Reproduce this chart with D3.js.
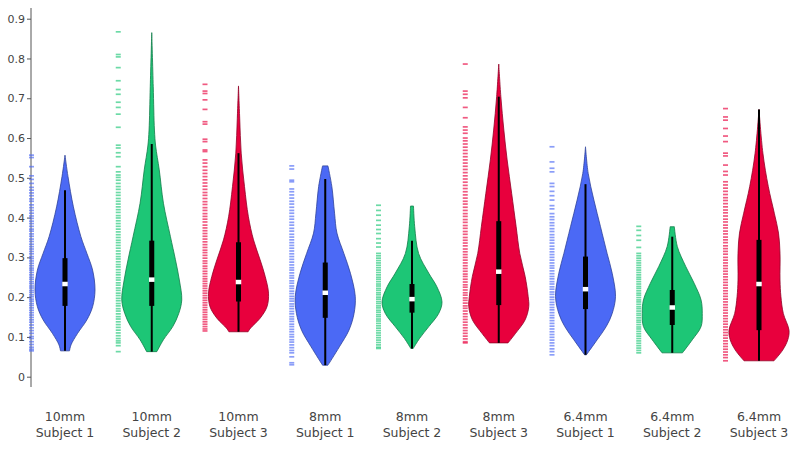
<!DOCTYPE html>
<html>
<head>
<meta charset="utf-8">
<script src="https://cdn.jsdelivr.net/npm/d3@7"></script>
<style>
  body { margin: 0; background: #fff; }
  text { font-family: "DejaVu Sans", Verdana, sans-serif; fill: #444; }
</style>
</head>
<body>
<svg id="chart" width="800" height="450"></svg>
<script>
// categories as "size subject"
var categories = ["10mm Subject 1", "10mm Subject 2", "10mm Subject 3",
                  "8mm Subject 1", "8mm Subject 2", "8mm Subject 3",
                  "6.4mm Subject 1", "6.4mm Subject 2", "6.4mm Subject 3"];
var subjects = ["Subject 1", "Subject 2", "Subject 3"];
var yTicks = [0, 0.1, 0.2, 0.3, 0.4, 0.5, 0.6, 0.7, 0.8, 0.9];

// box stats per category
var minVals    = [0.065, 0.063, 0.113, 0.029, 0.071, 0.085, 0.055, 0.060, 0.040];
var q1Vals     = [0.178, 0.178, 0.189, 0.148, 0.161, 0.180, 0.170, 0.130, 0.117];
var medianVals = [0.233, 0.244, 0.238, 0.211, 0.195, 0.264, 0.220, 0.174, 0.233];
var q3Vals     = [0.298, 0.342, 0.338, 0.287, 0.233, 0.391, 0.302, 0.218, 0.344];
var upperWhisk = [0.469, 0.585, 0.562, 0.497, 0.342, 0.704, 0.484, 0.352, 0.672];

// violin outlines: [value, relative half width]
var profiles = [
  [[0.065,0.15],[0.08,0.2],[0.109,0.42],[0.143,0.73],[0.176,0.92],[0.218,1.0],[0.268,0.92],[0.31,0.73],[0.352,0.53],[0.427,0.28],[0.503,0.1],[0.557,0.0]],
  [[0.063,0.17],[0.093,0.39],[0.126,0.7],[0.159,0.9],[0.193,1.0],[0.243,0.92],[0.294,0.79],[0.353,0.62],[0.436,0.39],[0.52,0.25],[0.58,0.13],[0.62,0.09],[0.729,0.05],[0.865,0.0]],
  [[0.113,0.32],[0.122,0.4],[0.147,0.72],[0.176,0.95],[0.21,1.0],[0.252,0.89],[0.294,0.72],[0.344,0.5],[0.402,0.33],[0.478,0.2],[0.562,0.09],[0.65,0.04],[0.731,0.0]],
  [[0.029,0.09],[0.075,0.47],[0.117,0.79],[0.159,0.96],[0.202,1.0],[0.26,0.84],[0.31,0.62],[0.361,0.39],[0.411,0.31],[0.478,0.22],[0.53,0.09]],
  [[0.071,0.04],[0.096,0.25],[0.126,0.56],[0.159,0.89],[0.188,1.0],[0.226,0.83],[0.26,0.56],[0.31,0.22],[0.377,0.09],[0.429,0.05]],
  [[0.085,0.31],[0.109,0.56],[0.143,0.88],[0.176,1.0],[0.202,0.98],[0.252,0.88],[0.31,0.7],[0.377,0.58],[0.461,0.43],[0.545,0.28],[0.62,0.17],[0.704,0.07],[0.786,0.0]],
  [[0.055,0.03],[0.093,0.39],[0.126,0.69],[0.159,0.89],[0.202,1.0],[0.26,0.89],[0.31,0.72],[0.377,0.5],[0.444,0.28],[0.511,0.09],[0.578,0.0]],
  [[0.06,0.34],[0.093,0.67],[0.126,0.96],[0.159,1.0],[0.193,0.96],[0.235,0.73],[0.277,0.45],[0.327,0.17],[0.377,0.07]],
  [[0.04,0.5],[0.067,0.79],[0.093,0.96],[0.117,1.0],[0.159,0.81],[0.202,0.73],[0.243,0.7],[0.31,0.7],[0.361,0.65],[0.411,0.51],[0.478,0.31],[0.562,0.13],[0.672,0.0]]
];

// rug (individual points)
var rugs = [
  [0.557,0.551,0.528,0.505,0.496,0.486,0.476,0.469,0.462,0.455,0.447,0.441,0.432,0.425,0.418,0.411,0.404,0.398,0.391,0.385,0.378,0.371,0.366,0.359,0.353,0.346,0.34,0.333,0.327,0.321,0.315,0.309,0.302,0.297,0.291,0.285,0.279,0.273,0.268,0.262,0.256,0.25,0.245,0.239,0.234,0.228,0.223,0.217,0.212,0.206,0.201,0.195,0.19,0.184,0.179,0.173,0.167,0.161,0.155,0.149,0.143,0.137,0.13,0.123,0.116,0.109,0.101,0.096,0.088,0.081,0.074,0.069,0.065],
  [0.867,0.81,0.804,0.777,0.744,0.722,0.71,0.69,0.677,0.66,0.627,0.582,0.575,0.563,0.553,0.528,0.515,0.507,0.501,0.494,0.486,0.478,0.471,0.463,0.456,0.448,0.441,0.434,0.427,0.42,0.413,0.405,0.399,0.392,0.385,0.378,0.371,0.364,0.357,0.35,0.343,0.337,0.33,0.323,0.316,0.309,0.302,0.296,0.289,0.282,0.276,0.269,0.262,0.256,0.249,0.243,0.236,0.23,0.223,0.217,0.21,0.204,0.197,0.191,0.184,0.178,0.171,0.165,0.158,0.151,0.145,0.138,0.131,0.124,0.117,0.11,0.103,0.096,0.09,0.085,0.078,0.063],
  [0.735,0.718,0.712,0.696,0.672,0.641,0.635,0.597,0.591,0.57,0.566,0.545,0.537,0.528,0.519,0.511,0.503,0.495,0.487,0.479,0.471,0.463,0.456,0.448,0.44,0.433,0.425,0.418,0.41,0.403,0.396,0.389,0.381,0.374,0.367,0.36,0.353,0.346,0.339,0.332,0.325,0.318,0.312,0.305,0.298,0.291,0.285,0.278,0.272,0.265,0.259,0.252,0.246,0.24,0.234,0.228,0.222,0.216,0.21,0.204,0.198,0.192,0.186,0.18,0.174,0.168,0.162,0.156,0.15,0.144,0.138,0.132,0.126,0.12,0.115],
  [0.53,0.522,0.494,0.49,0.472,0.465,0.457,0.449,0.441,0.434,0.426,0.418,0.411,0.403,0.396,0.388,0.381,0.373,0.366,0.358,0.351,0.344,0.337,0.33,0.323,0.316,0.309,0.302,0.295,0.288,0.281,0.274,0.268,0.261,0.254,0.248,0.241,0.235,0.228,0.222,0.215,0.209,0.202,0.196,0.19,0.183,0.177,0.171,0.164,0.158,0.151,0.145,0.139,0.132,0.126,0.119,0.113,0.106,0.1,0.093,0.087,0.08,0.073,0.066,0.06,0.05,0.035,0.03],
  [0.431,0.418,0.406,0.393,0.381,0.37,0.36,0.347,0.336,0.326,0.31,0.304,0.298,0.292,0.286,0.28,0.274,0.268,0.262,0.256,0.25,0.245,0.239,0.233,0.228,0.222,0.217,0.211,0.206,0.2,0.195,0.189,0.184,0.178,0.173,0.167,0.162,0.156,0.151,0.145,0.14,0.134,0.128,0.122,0.116,0.11,0.104,0.098,0.092,0.086,0.08,0.074,0.071],
  [0.786,0.718,0.71,0.701,0.677,0.651,0.628,0.62,0.612,0.6,0.593,0.585,0.577,0.569,0.561,0.553,0.545,0.537,0.529,0.521,0.513,0.505,0.497,0.489,0.481,0.473,0.465,0.457,0.449,0.441,0.434,0.426,0.418,0.41,0.403,0.395,0.388,0.38,0.373,0.365,0.358,0.35,0.343,0.336,0.329,0.321,0.314,0.307,0.3,0.293,0.286,0.279,0.272,0.265,0.258,0.252,0.245,0.238,0.231,0.225,0.218,0.211,0.205,0.198,0.192,0.185,0.178,0.172,0.165,0.158,0.151,0.144,0.137,0.13,0.123,0.116,0.109,0.102,0.095,0.088,0.085],
  [0.578,0.54,0.524,0.515,0.486,0.478,0.466,0.455,0.444,0.43,0.422,0.41,0.402,0.395,0.387,0.38,0.372,0.365,0.357,0.35,0.343,0.336,0.328,0.321,0.314,0.307,0.3,0.293,0.286,0.279,0.273,0.266,0.259,0.252,0.246,0.239,0.233,0.226,0.22,0.213,0.207,0.2,0.194,0.187,0.181,0.174,0.168,0.161,0.154,0.148,0.141,0.134,0.127,0.12,0.113,0.106,0.099,0.092,0.085,0.078,0.07,0.063,0.055],
  [0.378,0.368,0.355,0.343,0.325,0.31,0.304,0.298,0.292,0.286,0.28,0.274,0.268,0.262,0.256,0.25,0.245,0.239,0.233,0.227,0.222,0.216,0.21,0.205,0.199,0.193,0.188,0.182,0.176,0.171,0.165,0.159,0.154,0.148,0.142,0.137,0.131,0.125,0.12,0.114,0.108,0.102,0.096,0.09,0.084,0.078,0.072,0.066,0.06],
  [0.674,0.653,0.645,0.624,0.605,0.591,0.562,0.555,0.532,0.516,0.507,0.49,0.482,0.474,0.466,0.458,0.45,0.443,0.435,0.427,0.419,0.412,0.404,0.396,0.389,0.381,0.374,0.366,0.359,0.351,0.344,0.337,0.329,0.322,0.315,0.308,0.3,0.293,0.286,0.279,0.272,0.265,0.258,0.251,0.244,0.237,0.23,0.223,0.216,0.209,0.202,0.195,0.188,0.181,0.174,0.167,0.16,0.153,0.146,0.139,0.132,0.125,0.118,0.111,0.104,0.097,0.09,0.083,0.076,0.069,0.062,0.055,0.048,0.04]
];

var svg = d3.select("#chart");

var x = d3.scalePoint().domain(categories).range([65, 759]);
var y = d3.scaleLinear().domain([0, 0.9]).range([376.7, 18.7]);
var w = d3.scaleLinear().domain([0, 1]).range([0, 30]);
var color = d3.scaleOrdinal().domain(subjects).range(["#4b69f5", "#1dc676", "#e8003d"]);

function subjectOf(c) { return c.slice(c.indexOf(" ") + 1); }
function sizeOf(c) { return c.slice(0, c.indexOf(" ")); }

// y axis
svg.append("line")
  .attr("x1", 31).attr("x2", 31).attr("y1", 8).attr("y2", 387)
  .attr("stroke", "#555").attr("stroke-width", 1);

var yAxis = svg.append("g")
  .attr("transform", "translate(31,0)")
  .call(d3.axisLeft(y).tickValues(yTicks).tickSize(4).tickPadding(2)
        .tickFormat(d3.format(".1~f")));
yAxis.select(".domain").remove();
yAxis.selectAll(".tick line").attr("stroke", "#555");
yAxis.selectAll(".tick text").style("font-size", "11px")
  .style("font-family", "'DejaVu Sans', Verdana, sans-serif").attr("fill", "#444");

// violins
var area = d3.area()
  .curve(d3.curveCatmullRom)
  .y(function(d){ return y(d[0]); });

var groups = svg.selectAll("g.violin")
  .data(categories)
  .enter()
  .append("g")
  .attr("class", "violin");

groups.each(function(c, i) {
  var g = d3.select(this);
  var cx = x(c);
  var col = color(subjectOf(c));

  // rug
  g.selectAll("line.rug")
    .data(rugs[i])
    .enter()
    .append("line")
    .attr("class", "rug")
    .attr("x1", cx - 36).attr("x2", cx - 31)
    .attr("y1", function(d){ return y(d); })
    .attr("y2", function(d){ return y(d); })
    .attr("stroke", col)
    .attr("stroke-opacity", 0.65)
    .attr("stroke-width", 1.7);

  area.x0(function(d){ return cx - w(d[1]); })
      .x1(function(d){ return cx + w(d[1]); });
  g.append("path")
    .attr("d", area(profiles[i]))
    .attr("fill", col)
    .attr("stroke", d3.color(col).darker(1.3))
    .attr("stroke-width", 0.8);

  // inner box
  g.append("line")
    .attr("x1", cx).attr("x2", cx)
    .attr("y1", y(minVals[i])).attr("y2", y(upperWhisk[i]))
    .attr("stroke", "#000").attr("stroke-width", 2);
  g.append("rect")
    .attr("x", cx - 2.5).attr("width", 5)
    .attr("y", y(q3Vals[i])).attr("height", y(q1Vals[i]) - y(q3Vals[i]))
    .attr("fill", "#000");
  g.append("rect")
    .attr("x", cx - 2.75).attr("width", 5.5)
    .attr("y", y(medianVals[i]) - 2.25).attr("height", 4.5)
    .attr("fill", "#fff");

  // category label
  var t = g.append("text")
    .attr("x", cx)
    .attr("text-anchor", "middle")
    .style("font-size", "12.5px");
  t.append("tspan").attr("x", cx).attr("y", 421).text(sizeOf(c));
  t.append("tspan").attr("x", cx).attr("y", 437).text(subjectOf(c));
});
</script>
</body>
</html>
